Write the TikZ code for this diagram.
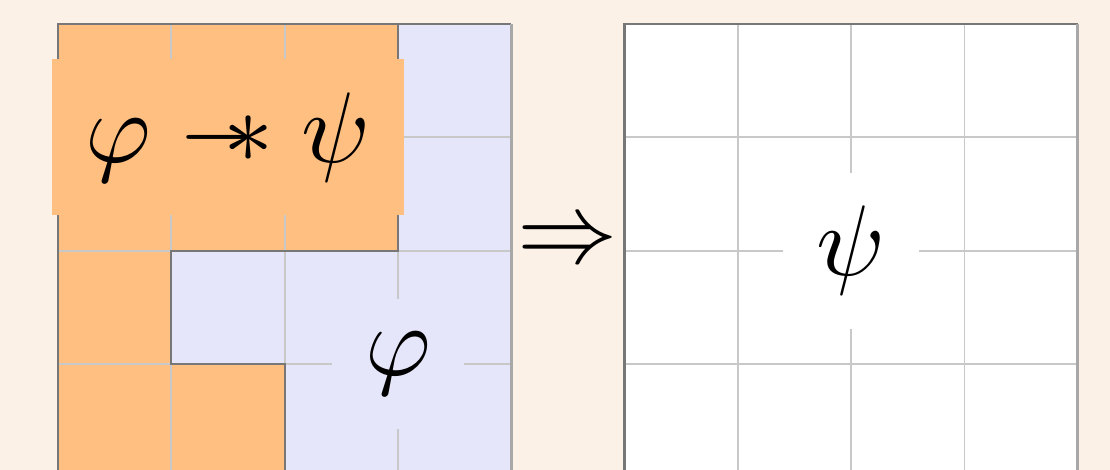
\documentclass[tikz,border=0pt]{standalone}
\usetikzlibrary{calc}
\definecolor{bgCol}{HTML}{FCF1E6}
\definecolor{wandCol}{HTML}{FFBF80}
\definecolor{frameCol}{HTML}{E6E6FA}
\definecolor{gridlight}{HTML}{C8C8C8}
\definecolor{griddark}{HTML}{777777}
\definecolor{edgegray}{HTML}{A8A8A8}
\newcommand{\wand}{\mathrel{-\mkern-6mu*}}

\begin{document}
\begin{tikzpicture}[
    mathnode/.style={scale=2.52, anchor=center},
    thingrid/.style={gridlight, line width=0.45pt},
    outline/.style={griddark, line width=0.55pt},
    rightedge/.style={edgegray, line width=0.7pt}
]

\useasboundingbox (-0.512,0.064) rectangle (9.285,4.212);
\clip (-0.512,0.064) rectangle (9.285,4.212);
\fill[bgCol] (-0.512,0.064) rectangle (9.285,4.212);

% --- 1. LEFT GRID (BEFORE) ---
\fill[frameCol] (0,0) rectangle (4,4);
\fill[wandCol] (0,0) -- (0,4) -- (3,4) -- (3,2) -- (1,2) -- (1,1) -- (2,1) -- (2,0) -- cycle;
\draw[thingrid] (0,0) grid (4,4);
\draw[outline] (2,0) -- (2,1) -- (1,1) -- (1,2) -- (3,2) -- (3,4) -- (0,4) -- (0,0);
\draw[outline] (3,4) -- (4,4);
\draw[rightedge] (4,0) -- (4,4);

\node[mathnode, fill=wandCol] (wand) at (1.5,3) {$\varphi \wand \psi$};
\node[mathnode, fill=frameCol] (pre) at (3,1) {$\varphi$};

% --- 2. IMPLIES ---
\node[mathnode] (implies) at (4.5,2.06) {$\Rightarrow$};

% --- 3. RIGHT GRID (AFTER) ---
\fill[white] (5,0) rectangle (9,4);
\draw[thingrid] (5,0) grid (9,4);
\draw[outline] (5,0) -- (5,4) -- (9,4);
\draw[rightedge] (9,0) -- (9,4);

\node[mathnode, fill=white] (post) at (7,2) {$\psi$};

\end{tikzpicture}
\end{document}
